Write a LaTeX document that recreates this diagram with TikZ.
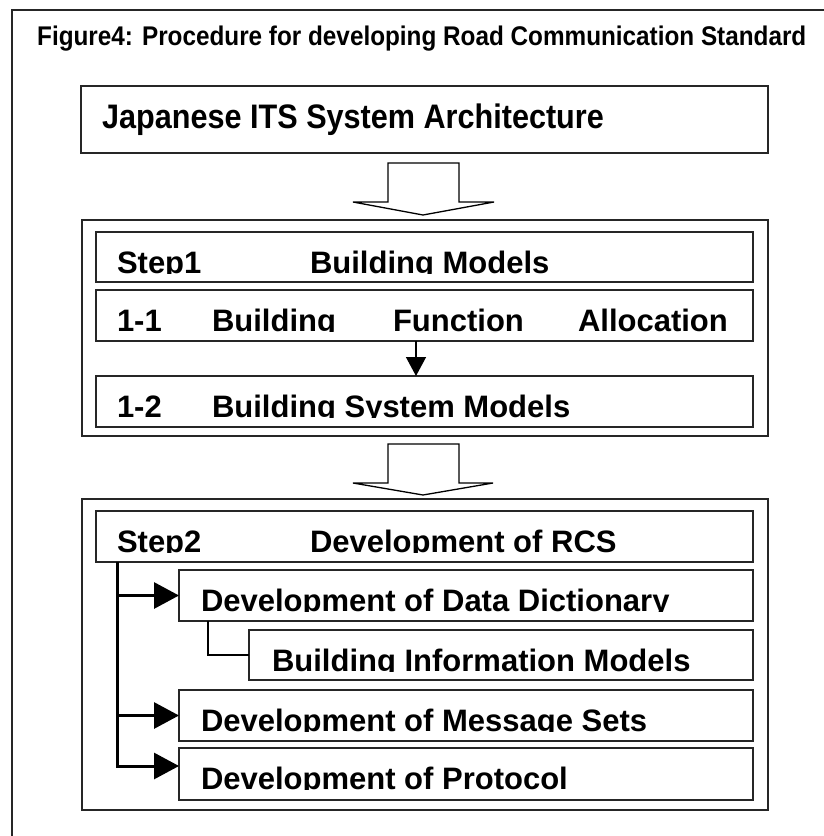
\documentclass[tikz,border=0pt]{standalone}
\usepackage{fontspec}
\setmainfont{Liberation Sans}
\newfontfamily\narrowsans[FakeStretch=0.9]{Liberation Sans}
\usetikzlibrary{arrows.meta,calc}
\tikzset{
  boxline/.style={draw=black!85, line width=1.6pt, inner sep=0pt, outer sep=0pt, anchor=north west},
  btxt/.style={anchor=base west, inner sep=0pt, outer sep=0pt, font=\fontsize{31}{36}\selectfont\bfseries},
  hollow/.style={draw=black, line width=1.3pt, fill=white, line join=miter},
  treeline/.style={draw=black, line width=3pt, line join=miter},
  treearrow/.style={treeline, -{Triangle[length=25pt,width=26pt]}},
  thinarrow/.style={draw=black, line width=1.4pt, -{Triangle[length=19pt,width=20pt]}}
}
\begin{document}
\begin{tikzpicture}[x=1pt,y=-1pt]
\useasboundingbox (0,0) rectangle (824,836);
% outer frame (extends beyond the picture)
\draw[black!85, line width=1.6pt] (12,850) -- (12,10) -- (840,10);
% title
\node[anchor=base west, inner sep=0pt, font=\narrowsans\fontsize{27}{30}\selectfont\bfseries] (title) at (37,45) {Figure4: Procedure for developing Road Communication Standard};
% Japanese ITS box
\node[boxline, minimum width=687pt, minimum height=67pt] (jits) at (81,86) {};
\node[anchor=base west, inner sep=0pt, font=\narrowsans\fontsize{34}{40}\selectfont\bfseries] (jitst) at (102,128) {Japanese ITS System Architecture};
% hollow arrow 1
\draw[hollow] (388,163) -- (459,163) -- (459,202) -- (494,202) -- (423,215) -- (353,202) -- (388,202) -- cycle;
% Step 1 group
\node[boxline, minimum width=686pt, minimum height=216pt] (g1) at (82,220) {};
\node[boxline, minimum width=657pt, minimum height=50pt] (s1) at (96,232) {};
\node[boxline, minimum width=657pt, minimum height=51pt] (b11) at (96,290) {};
\node[boxline, minimum width=657pt, minimum height=51pt] (b12) at (96,376) {};
\begin{scope}
  \clip (96,232) rectangle (753,273.5);
  \node[btxt] (s1a) at (117,273) {Step1};
  \node[btxt] (s1b) at (310,273) {Building Models};
\end{scope}
\begin{scope}
  \clip (96,290) rectangle (753,331.5);
  \node[btxt] (t11a) at (117,331) {1-1};
  \node[btxt] (t11b) at (212,331) {Building};
  \node[btxt] (t11c) at (393,331) {Function};
  \node[btxt] (t11d) at (578,331) {Allocation};
\end{scope}
\begin{scope}
  \clip (96,376) rectangle (753,417.5);
  \node[btxt] (t12a) at (117,417) {1-2};
  \node[btxt] (t12b) at (212,417) {Building System Models};
\end{scope}
\coordinate (ax) at (416,0);
\draw[thinarrow] (b11.south -| ax) -- (b12.north -| ax);
% hollow arrow 2
\draw[hollow] (388,444) -- (459,444) -- (459,483) -- (493,483) -- (423,495) -- (353,483) -- (388,483) -- cycle;
% Step 2 group
\node[boxline, minimum width=686pt, minimum height=311pt] (g2) at (82,499) {};
\node[boxline, minimum width=657pt, minimum height=51pt] (s2) at (96,511) {};
\node[boxline, minimum width=574pt, minimum height=51pt] (dd) at (179,570) {};
\node[boxline, minimum width=504pt, minimum height=50pt] (bim) at (249,630) {};
\node[boxline, minimum width=574pt, minimum height=51pt] (ms) at (179,690) {};
\node[boxline, minimum width=574pt, minimum height=52pt] (pr) at (179,748) {};
\begin{scope}
  \clip (96,511) rectangle (753,552.5);
  \node[btxt] (s2a) at (117,552) {Step2};
  \node[btxt] (s2b) at (310,552) {Development of RCS};
\end{scope}
\begin{scope}
  \clip (179,570) rectangle (753,611.5);
  \node[btxt] (ddt) at (201,611) {Development of Data Dictionary};
\end{scope}
\begin{scope}
  \clip (249,630) rectangle (753,671.5);
  \node[btxt] (bimt) at (272,671) {Building Information Models};
\end{scope}
\begin{scope}
  \clip (179,690) rectangle (753,731.5);
  \node[btxt] (mst) at (201,731) {Development of Message Sets};
\end{scope}
\begin{scope}
  \clip (179,748) rectangle (753,789.5);
  \node[btxt] (prt) at (201,789) {Development of Protocol};
\end{scope}
% tree connectors
\coordinate (tx) at (117,0);
\coordinate (prin) at (179,766);
\draw[treearrow] (s2.south -| tx) |- (prin);
\draw[treearrow] (tx |- dd.west) -- (dd.west);
\draw[treearrow] (tx |- ms.west) -- (ms.west);
\coordinate (cx) at (208,0);
\draw[draw=black, line width=2.5pt, line join=miter] (dd.south -| cx) |- (bim.west);
\end{tikzpicture}
\end{document}
